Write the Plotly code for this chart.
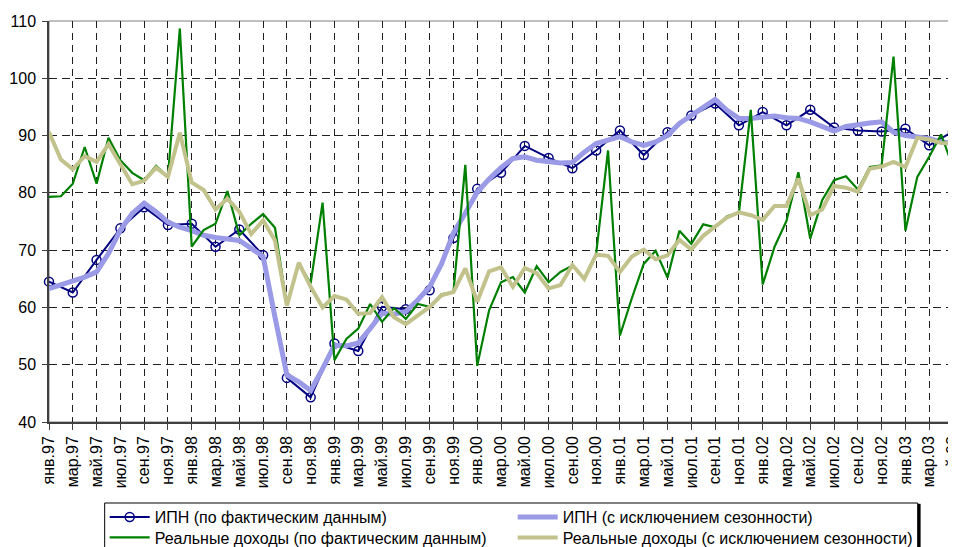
import plotly.graph_objects as go

# подписи месяцев янв.97 ... май.03
month_names = ["янв", "фев", "мар", "апр", "май", "июн",
               "июл", "авг", "сен", "окт", "ноя", "дек"]
years = ["97", "98", "99", "00", "01", "02", "03"]
months = [m + "." + y for y in years for m in month_names][:77]
tick_labels = months[::2]

# ИПН по фактическим данным (раз в два месяца)
ipn_fact = [64.5, 62.6, 68.3, 73.8, 77.5, 74.4,
            74.6, 70.6, 73.6, 69.1, 47.7, 44.3,
            53.7, 52.4, 60.1, 59.7, 63.0, 72.1,
            80.7, 83.5, 88.2, 86.1, 84.3, 87.4,
            90.9, 86.6, 90.6, 93.5, 95.6, 91.8,
            94.1, 91.8, 94.5, 91.4, 90.9, 90.7,
            91.2, 88.3, 90.7]

# ИПН с исключением сезонности
ipn_sa = [63.3, 63.9, 64.5, 65.3, 66.2, 69.4, 73.5, 76.4, 78.2, 76.7, 74.9, 74.0,
          73.4, 72.6, 72.2, 72.0, 71.7, 70.3, 68.9, 58.3, 48.2, 47.0, 45.5, 49.3,
          53.4, 53.3, 53.8, 56.3, 59.0, 58.8, 59.3, 61.3, 63.6, 67.6, 73.0, 76.5,
          80.1, 82.4, 84.4, 86.0, 86.3, 85.7, 85.4, 85.2, 85.3, 87.1, 88.6, 89.2,
          89.8, 88.9, 88.3, 88.9, 90.0, 92.1, 93.5, 95.0, 96.3, 94.4, 93.0, 93.0,
          93.2, 93.4, 93.1, 93.0, 92.4, 91.5, 90.8, 91.6, 92.0, 92.2, 92.4, 90.6,
          90.0, 89.8, 89.5, 88.9, 88.6]

# Реальные доходы по фактическим данным
inc_fact = [79.3, 79.4, 81.6, 88.0, 81.6, 89.6, 85.7, 83.5, 82.2, 84.7, 82.8, 108.7,
            70.6, 73.5, 74.6, 80.3, 72.6, 74.6, 76.3, 73.9, 60.3, 67.7, 64.2, 78.3,
            50.8, 54.5, 56.3, 60.6, 57.5, 59.9, 58.0, 60.6, 60.1, 62.3, 62.7, 84.9,
            49.8, 59.5, 64.4, 65.3, 62.6, 67.2, 64.4, 66.2, 67.3, 65.1, 69.4, 87.4,
            55.1, 61.6, 67.6, 69.9, 65.2, 73.4, 71.1, 74.5, 74.0, 75.9, 76.5, 94.5,
            64.0, 70.6, 75.1, 83.6, 72.0, 78.7, 82.2, 82.9, 80.6, 84.5, 84.8, 103.8,
            73.4, 82.8, 86.3, 90.2, 84.5]

# Реальные доходы с исключением сезонности
inc_sa = [90.6, 85.8, 84.1, 86.4, 85.4, 88.5, 85.0, 81.5, 82.1, 84.4, 82.8, 90.5,
          81.8, 80.5, 77.1, 79.0, 76.7, 72.8, 75.2, 71.7, 60.3, 67.8, 63.6, 60.0,
          62.0, 61.4, 58.9, 59.0, 61.8, 58.3, 57.1, 58.6, 60.1, 62.1, 62.7, 66.8,
          61.0, 66.3, 67.0, 63.6, 66.9, 66.0, 63.3, 63.9, 67.4, 65.0, 69.2, 69.0,
          66.2, 68.9, 70.1, 68.4, 69.1, 71.8, 70.1, 72.5, 74.0, 75.7, 76.6, 76.1,
          75.3, 77.7, 77.7, 82.5, 76.1, 77.1, 81.2, 80.9, 80.2, 84.2, 84.6, 85.4,
          84.5, 89.6, 89.3, 88.7, 88.6]


def make_figure():
    fig = go.Figure()
    fig.add_trace(go.Scatter(
        x=months[::2], y=ipn_fact, name="ИПН (по фактическим данным)",
        mode="lines+markers", legend="legend", cliponaxis=False,
        line=dict(color="#000080", width=2),
        marker=dict(symbol="circle-open", size=9, color="#000080",
                    line=dict(width=1.5, color="#000080"))
    ))
    fig.add_trace(go.Scatter(
        x=months, y=ipn_sa, name="ИПН (с исключением сезонности)",
        mode="lines", legend="legend",
        line=dict(color="#9A9AE6", width=5)
    ))
    fig.add_trace(go.Scatter(
        x=months, y=inc_fact, name="Реальные доходы (по фактическим данным)",
        mode="lines", legend="legend2",
        line=dict(color="#008000", width=2.2)
    ))
    fig.add_trace(go.Scatter(
        x=months, y=inc_sa, name="Реальные доходы (с исключением сезонности)",
        mode="lines", legend="legend2",
        line=dict(color="#C2C28C", width=4)
    ))

    leg = dict(orientation="h", x=0.0616, xanchor="left", yanchor="middle",
               entrywidth=353, itemwidth=40, borderwidth=0,
               bgcolor="rgba(0,0,0,0)", font=dict(size=16))

    # страница имеет отступ 8px, поэтому фигура на 8px меньше окна
    fig.update_layout(
        width=948, height=539,
        margin=dict(l=41, r=3, t=13, b=125, autoexpand=False),
        paper_bgcolor="white", plot_bgcolor="white",
        font=dict(family="Liberation Sans, Arial, sans-serif", size=16, color="black"),
        showlegend=True,
        legend=dict(leg, y=-0.237),
        legend2=dict(leg, y=-0.288),
        shapes=[
            dict(type="rect", xref="paper", yref="paper", x0=0, x1=1, y0=0, y1=1,
                 line=dict(color="#808080", width=1), layer="below"),
            # рамка легенды
            dict(type="rect", xref="paper", yref="paper",
                 x0=0.0616, x1=0.961, y0=-0.42, y1=-0.202,
                 line=dict(color="black", width=1)),
            dict(type="line", xref="paper", yref="paper",
                 x0=0.9625, x1=0.9625, y0=-0.42, y1=-0.204,
                 line=dict(color="black", width=3)),
        ]
    )
    fig.update_xaxes(
        type="category", categoryorder="array", categoryarray=months,
        range=[0, len(months) - 1], automargin=False,
        tickmode="array", tickvals=tick_labels, ticktext=tick_labels,
        tickangle=-90, ticks="outside", ticklen=6, tickcolor="#404040",
        tickfont=dict(size=16),
        showline=True, linecolor="#404040", linewidth=1.5,
        showgrid=True, gridcolor="#202020", gridwidth=1, griddash="7px,5px",
        zeroline=False
    )
    fig.update_yaxes(
        range=[40, 110], dtick=10, automargin=False,
        ticks="outside", ticklen=5, tickcolor="#404040", ticklabelstandoff=3,
        showline=True, linecolor="#404040", linewidth=1.5,
        showgrid=True, gridcolor="#202020", gridwidth=1, griddash="8px,5px",
        zeroline=False
    )
    fig.write_html("out.html")


if __name__ == '__main__':
    make_figure()
